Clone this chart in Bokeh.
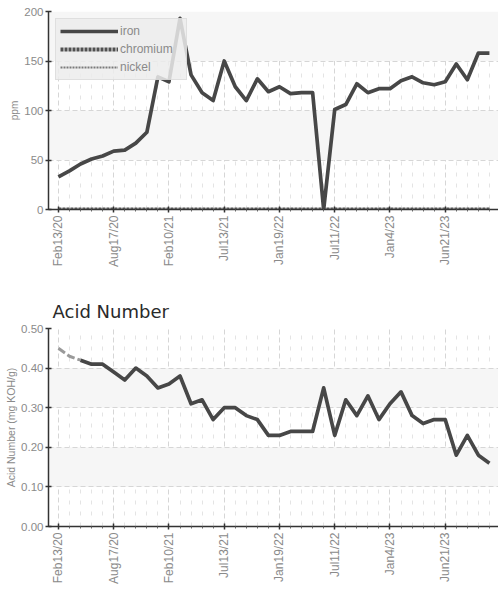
import math
from bokeh.plotting import figure
from bokeh.layouts import column
from bokeh.models import Range1d, FixedTicker, Legend, LegendItem, ColumnDataSource
from bokeh.embed import file_html
from bokeh.resources import INLINE

# ---------------- data ----------------
sample_idx = list(range(40))
tick_idx = [0, 5, 10, 15, 20, 25, 30, 35]
tick_labels = ["Feb13/20", "Aug17/20", "Feb10/21", "Jul13/21",
               "Jan19/22", "Jul11/22", "Jan4/23", "Jun21/23"]

iron = [33, 39, 46, 51, 54, 59, 60, 67, 78, 134,
        129, 193, 136, 118, 110, 150, 124, 110, 132, 119,
        124, 117, 118, 118, 0, 101, 106, 127, 118, 122,
        122, 130, 134, 128, 126, 129, 147, 131, 158, 158]
chromium = [0, 0, 0, 0, 0, 0, 0, 0, 0, 0,
            0, 0, 0, 0, 0, 0, 0, 0, 0, 0,
            0, 0, 0, 0, 0, 0, 0, 0, 0, 0,
            0, 0, 0, 0, 0, 0, 0, 0, 0, 0]
nickel = [0, 0, 0, 0, 0, 0, 0, 0, 0, 0,
          0, 0, 0, 0, 0, 0, 0, 0, 0, 0,
          0, 0, 0, 0, 0, 0, 0, 0, 0, 0,
          0, 0, 0, 0, 0, 0, 0, 0, 0, 0]
acid = [0.45, 0.43, 0.42, 0.41, 0.41, 0.39, 0.37, 0.40, 0.38, 0.35,
        0.36, 0.38, 0.31, 0.32, 0.27, 0.30, 0.30, 0.28, 0.27, 0.23,
        0.23, 0.24, 0.24, 0.24, 0.35, 0.23, 0.32, 0.28, 0.33, 0.27,
        0.31, 0.34, 0.28, 0.26, 0.27, 0.27, 0.18, 0.23, 0.18, 0.16]
acid_dashed_count = 3  # first samples drawn dashed

ppm_ticks = [0, 50, 100, 150, 200]
acid_ticks = [0.0, 0.1, 0.2, 0.3, 0.4, 0.5]

# ---------------- style ----------------
TICK_FONT = "Liberation Sans"
GRAY = "#8a8a8a"
LINE = "#474747"
minor_idx = [i for i in sample_idx if i not in tick_idx]


def style(p, yticks, yfmt):
    p.outline_line_color = None
    p.background_fill_color = "white"
    p.border_fill_color = "white"
    # x grid
    p.xgrid.ticker = FixedTicker(ticks=tick_idx, minor_ticks=minor_idx)
    p.xgrid.grid_line_color = "#d6d6d6"
    p.xgrid.grid_line_dash = "5 3"
    p.xgrid.minor_grid_line_color = "#e4e4e4"
    p.xgrid.minor_grid_line_dash = "4 7"
    # y grid
    p.ygrid.ticker = FixedTicker(ticks=yticks)
    p.ygrid.grid_line_color = "#d6d6d6"
    p.ygrid.grid_line_dash = "5 3"
    p.ygrid.band_fill_color = "#f6f6f6"
    p.ygrid.band_fill_alpha = 1.0
    # x axis
    xa = p.xaxis[0]
    xa.ticker = FixedTicker(ticks=tick_idx, minor_ticks=minor_idx)
    xa.major_label_overrides = {t: l for t, l in zip(tick_idx, tick_labels)}
    xa.major_label_orientation = math.pi / 2
    xa.major_label_text_font = TICK_FONT
    xa.major_label_text_font_size = "12px"
    xa.major_label_text_color = GRAY
    xa.major_label_standoff = 3
    xa.axis_line_color = "#333333"
    xa.axis_line_width = 1.5
    xa.major_tick_line_color = "#333333"
    xa.major_tick_line_width = 1.5
    xa.major_tick_in = 3
    xa.major_tick_out = 3
    xa.minor_tick_line_color = "#666666"
    xa.minor_tick_in = 0
    xa.minor_tick_out = 2
    # y axis
    ya = p.yaxis[0]
    ya.ticker = FixedTicker(ticks=yticks)
    ya.major_label_overrides = {t: yfmt(t) for t in yticks}
    ya.major_label_text_font = TICK_FONT
    ya.major_label_text_font_size = "11.5px"
    ya.major_label_text_color = GRAY
    ya.major_label_standoff = 2
    ya.axis_line_color = "#333333"
    ya.axis_line_width = 1.5
    ya.major_tick_line_color = "#333333"
    ya.major_tick_line_width = 1.5
    ya.major_tick_in = 3
    ya.major_tick_out = 3
    ya.minor_tick_line_color = None
    ya.axis_label_text_font = TICK_FONT
    ya.axis_label_text_font_style = "normal"
    ya.axis_label_text_color = GRAY
    ya.axis_label_standoff = 1


X_START, X_END = -0.9, 39.82

# ---------------- top chart: metals ----------------
src = ColumnDataSource(dict(x=sample_idx, iron=iron, chromium=chromium, nickel=nickel))

p1 = figure(width=498, height=290, x_range=Range1d(X_START, X_END), y_range=Range1d(0, 200),
            output_backend="svg", toolbar_location=None,
            min_border_left=48, min_border_right=0, min_border_top=11, min_border_bottom=81)
style(p1, ppm_ticks, lambda v: str(int(v)))
p1.yaxis[0].axis_label = "ppm"
p1.yaxis[0].axis_label_text_font_size = "10px"

r_cr = p1.line("x", "chromium", source=src, line_color="#505050", line_width=4, line_dash="3 1")
r_ni = p1.line("x", "nickel", source=src, line_color="#7a7a7a", line_width=2, line_dash="2 1")
r_fe = p1.line("x", "iron", source=src, line_color=LINE, line_width=3.7, line_join="round")

legend = Legend(items=[LegendItem(label="iron", renderers=[r_fe]),
                       LegendItem(label="chromium", renderers=[r_cr]),
                       LegendItem(label="nickel", renderers=[r_ni])],
                location="top_left")
legend.margin = 7
legend.padding = 4
legend.spacing = 2
legend.glyph_width = 58
legend.glyph_height = 16
legend.label_height = 16
legend.label_width = 62
legend.label_standoff = 2
legend.label_text_font = TICK_FONT
legend.label_text_font_size = "12px"
legend.label_text_color = GRAY
legend.background_fill_color = "#ececec"
legend.background_fill_alpha = 0.85
legend.border_line_color = "#d0d0d0"
p1.add_layout(legend)

# ---------------- bottom chart: acid number ----------------
dash_src = ColumnDataSource(dict(x=sample_idx[:acid_dashed_count], y=acid[:acid_dashed_count]))
solid_src = ColumnDataSource(dict(x=sample_idx[acid_dashed_count - 1:], y=acid[acid_dashed_count - 1:]))

p2 = figure(width=498, height=300, x_range=Range1d(X_START, X_END), y_range=Range1d(0, 0.5),
            output_backend="svg", toolbar_location=None,
            min_border_left=48, min_border_right=0, min_border_top=38, min_border_bottom=64,
            title="Acid Number")
style(p2, acid_ticks, lambda v: "%.2f" % v)
p2.title.text_font = "DejaVu Sans"
p2.title.text_font_size = "18px"
p2.title.text_font_style = "normal"
p2.title.text_color = "#2a2a2a"
p2.title.offset = 4
p2.title.standoff = 13
p2.yaxis[0].axis_label = "Acid Number (mg KOH/g)"
p2.yaxis[0].axis_label_text_font_size = "10.5px"

p2.line("x", "y", source=dash_src, line_color="#9a9a9a", line_width=3, line_dash="8 3")
p2.line("x", "y", source=solid_src, line_color=LINE, line_width=3.7, line_join="round")

layout = column(p1, p2, spacing=0)
open("out.html", "w").write(file_html(layout, INLINE))
